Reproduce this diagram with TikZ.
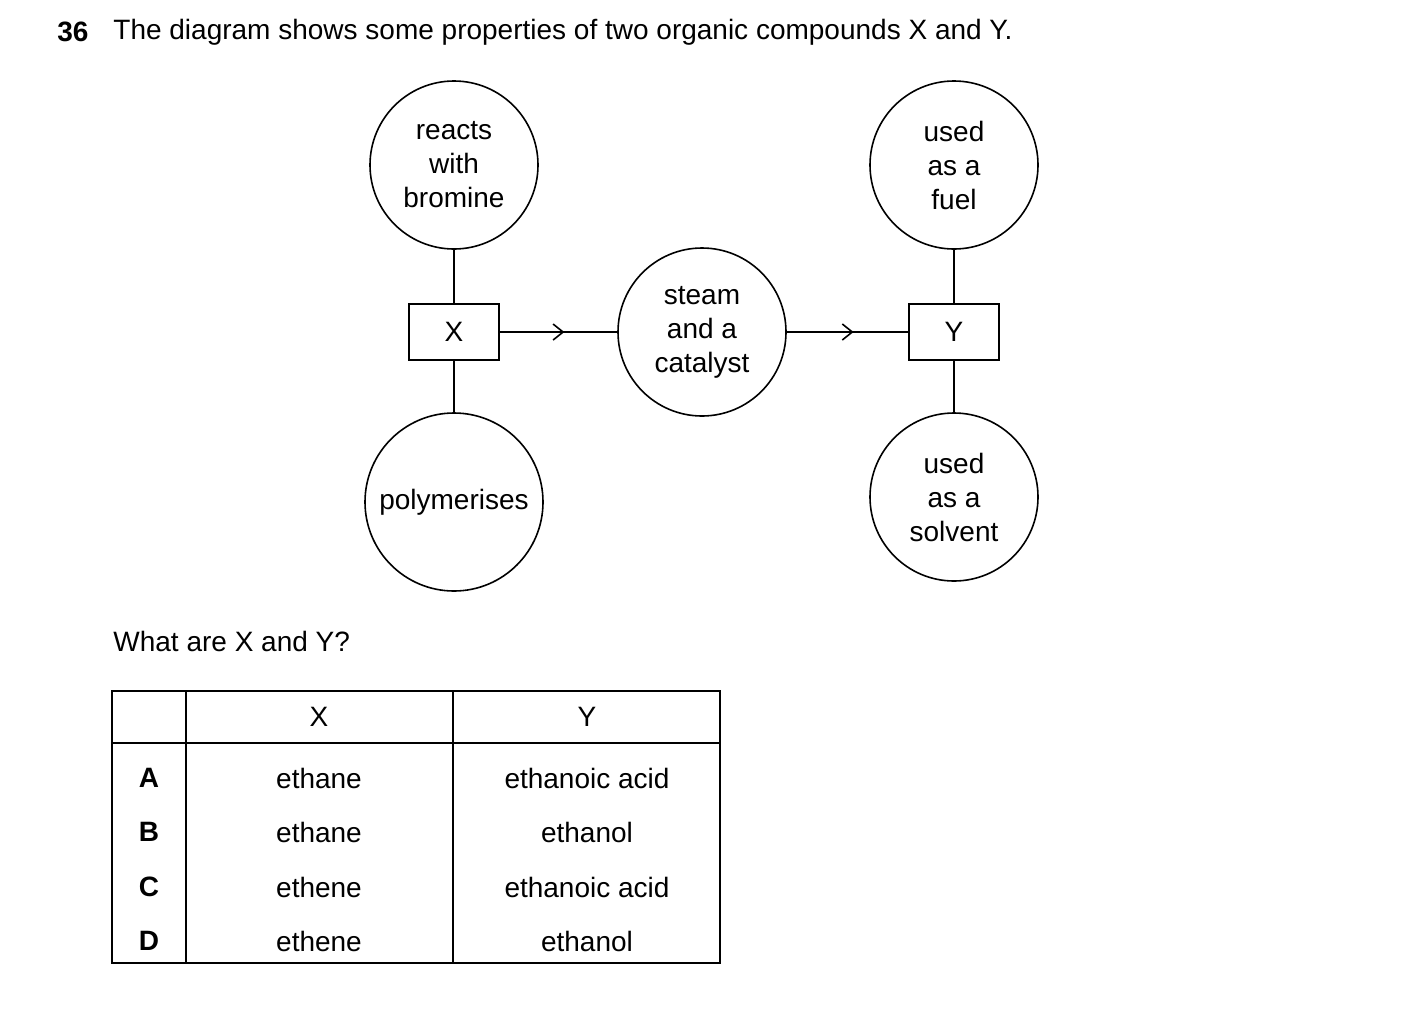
\documentclass[tikz,border=0pt]{standalone}
\usepackage{fontspec}
\setmainfont{Liberation Sans}
\usetikzlibrary{positioning,arrows.meta,decorations.markings}

\tikzset{
  prop/.style={draw, thick, circle, minimum size=84pt, inner sep=0pt, align=center, font=\fontsize{14}{17}\selectfont},
  cmpd/.style={draw, thick, minimum width=45pt, minimum height=28pt, inner sep=0pt, font=\fontsize{14}{16}\selectfont},
  txt/.style={font=\fontsize{14}{16}\selectfont, inner sep=0pt},
  link/.style={thick},
  flow/.style={thick, postaction={decorate}, decoration={markings,
      mark=at position .55 with {\arrow{Straight Barb[length=5pt,width=8pt]}}}}
}

\begin{document}
\begin{tikzpicture}[x=0.5pt, y=-0.5pt]
	\useasboundingbox (0,0) rectangle (1403,1013);
	%% question
	\node[txt, font=\fontsize{14}{16}\selectfont\bfseries, anchor=west] (qn) at (57,32) {36};
	\node[txt, anchor=west] (qtext) at (113,32) {The diagram shows some properties of two organic compounds X and Y.};

	%% diagram
	\node[cmpd] (X) at (454,332) {X};
	\node[cmpd] (Y) at (954,332) {Y};
	\node[prop] (brom) at (454,165) {reacts\\with\\bromine};
	\node[prop, minimum size=89pt] (poly) at (454,502) {polymerises};
	\node[prop] (steam) at (702,332) {steam\\and a\\catalyst};
	\node[prop] (fuel) at (954,165) {used\\as a\\fuel};
	\node[prop] (solv) at (954,497) {used\\as a\\solvent};
	\draw[link] (X) -- (brom);
	\draw[link] (X) -- (poly);
	\draw[link] (Y) -- (fuel);
	\draw[link] (Y) -- (solv);
	\draw[flow] (X) -- (steam);
	\draw[flow] (steam) -- (Y);

	\node[txt, anchor=west] (ask) at (113,641) {What are X and Y?};

	%% table
	\coordinate (tl) at (112,691);
	\coordinate (br) at (720,963);
	\draw[thick] (tl) rectangle (br);
	\draw[thick] (112,743) -- (720,743);
	\draw[thick] (186,691) -- (186,963);
	\draw[thick] (453,691) -- (453,963);
	\node[txt] (hx) at (319,717) {X};
	\node[txt] (hy) at (587,717) {Y};
	\foreach \l/\x/\y/\yy in {A/ethane/ethanoic acid/778, B/ethane/ethanol/832,
	    C/ethene/ethanoic acid/887, D/ethene/ethanol/941} {
		\node[txt, font=\fontsize{14}{16}\selectfont\bfseries] (r\l) at (149,\yy) {\l};
		\node[txt] (x\l) at (319,\yy) {\x};
		\node[txt] (y\l) at (587,\yy) {\y};
	}
\end{tikzpicture}
\end{document}
